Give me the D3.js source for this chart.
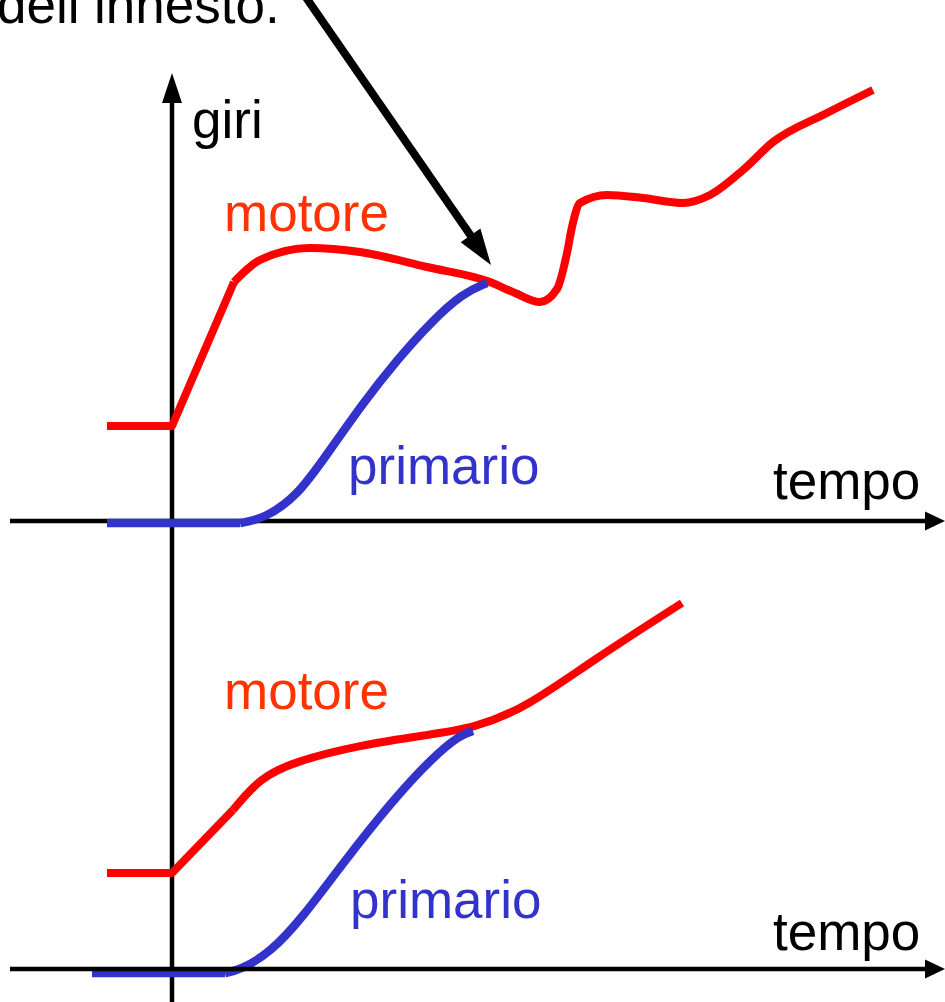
<!DOCTYPE html>
<html><head><meta charset="utf-8">
<script src="https://cdn.jsdelivr.net/npm/d3@7"></script>
<style>
body{margin:0;background:#fff}
svg{display:block}
text{font-family:"Liberation Sans",Arial,Helvetica,sans-serif;font-size:53px}
</style>
</head><body>
<svg id="chart" width="945" height="1002"></svg>
<script>
// ---- data (time units, rpm units) ----
const axisLabels = {y: "giri", x: "tempo"};
const seriesNames = ["motore", "primario"];
const annotationText = ["dell’", "innesto."];

// upper panel: engine ("motore") ramps up, then smooth; clutch engages at t≈318
const topMotoreRamp   = [[-65,95],[0,95],[62,239]];
const topMotoreSmooth = [[62,239],[88,261],[138,273],[188,269],[255,254],[318,239],
                         [343,228],[368,219],[385,232],[395,268],[400,294],[408,318],
                         [435,326],[471,323],[511,318],[538,326],[571,351],[601,379],
                         [655,408],[701,431]];
const topPrimarioFlat = [[-65,-2],[68,-2]];
const topPrimarioRise = [[68,-2],[91,2],[125,24],[158,71],[191,118],[225,161],
                         [258,198],[291,228],[315,238]];

// lower panel
const botMotoreRamp   = [[-65,96],[0,96],[61,159]];
const botMotoreSmooth = [[61,159],[88,191],[121,207],[188,224],[255,234],[303,241],
                         [355,262],[421,309],[510,366]];
const botPrimarioFlat = [[-80,-4],[53,-4]];
const botPrimarioRise = [[53,-4],[68,-1],[98,16],[131,52],[171,106],[221,169],
                         [261,212],[288,234],[301,238]];

// ---- scales ----
const svg = d3.select("#chart");
const x = d3.scaleLinear().domain([0, 773]).range([172, 945]);
const yTop = d3.scaleLinear().domain([0, 450]).range([521, 71]);
const yBot = d3.scaleLinear().domain([0, 450]).range([969, 519]);

const RED = "#ff0000", BLUE = "#3333cc", LABEL_RED = "#ff3300";

function lineGen(y, curve) {
  return d3.line().x(d => x(d[0])).y(d => y(d[1])).curve(curve);
}
function drawSeries(data, y, curve, color, width) {
  svg.append("path").attr("d", lineGen(y, curve)(data))
    .attr("fill", "none").attr("stroke", color).attr("stroke-width", width)
    .attr("stroke-linejoin", "round").attr("stroke-linecap", "butt");
}
function arrowHead(tx, ty, angle, len, half) {
  const bx = tx - len * Math.cos(angle), by = ty - len * Math.sin(angle);
  const px = -Math.sin(angle) * half, py = Math.cos(angle) * half;
  svg.append("path")
    .attr("d", `M${tx},${ty}L${bx + px},${by + py}L${bx - px},${by - py}Z`)
    .attr("fill", "#000");
}
function hAxis(y) {
  svg.append("line").attr("x1", x(-162)).attr("x2", x(756))
    .attr("y1", y(0)).attr("y2", y(0)).attr("stroke", "#000").attr("stroke-width", 4.5);
  arrowHead(x(773), y(0), 0, 20, 9.5);
}

// vertical axis
svg.append("line").attr("x1", x(0)).attr("x2", x(0))
  .attr("y1", yBot(-33)).attr("y2", yTop(420))
  .attr("stroke", "#000").attr("stroke-width", 4.5);
arrowHead(x(0), yTop(448), -Math.PI / 2, 30, 10);

// upper panel
hAxis(yTop);
drawSeries(topMotoreRamp, yTop, d3.curveLinear, RED, 8);
drawSeries(topMotoreSmooth, yTop, d3.curveMonotoneX, RED, 8);
drawSeries(topPrimarioFlat, yTop, d3.curveLinear, BLUE, 8.5);
drawSeries(topPrimarioRise, yTop, d3.curveBasis, BLUE, 8.5);

// lower panel
drawSeries(botMotoreRamp, yBot, d3.curveLinear, RED, 8);
drawSeries(botMotoreSmooth, yBot, d3.curveBasis, RED, 8);
drawSeries(botPrimarioFlat, yBot, d3.curveLinear, BLUE, 8.5);
drawSeries(botPrimarioRise, yBot, d3.curveBasis, BLUE, 8.5);
hAxis(yBot);

// labels
svg.append("text").attr("x", 192).attr("y", 138).attr("fill", "#000").text(axisLabels.y);
svg.append("text").attr("x", 773).attr("y", 499).attr("fill", "#000").text(axisLabels.x);
svg.append("text").attr("x", 773).attr("y", 950).attr("fill", "#000").text(axisLabels.x);
svg.append("text").attr("x", 224).attr("y", 231).attr("fill", LABEL_RED).text(seriesNames[0]);
svg.append("text").attr("x", 348).attr("y", 484).attr("fill", BLUE).text(seriesNames[1]);
svg.append("text").attr("x", 224).attr("y", 709).attr("fill", LABEL_RED).text(seriesNames[0]);
svg.append("text").attr("x", 350).attr("y", 918).attr("fill", BLUE).text(seriesNames[1]);

// annotation
const ann = svg.append("text").attr("x", -3).attr("y", 23).attr("fill", "#000");
ann.append("tspan").text(annotationText[0]);
ann.append("tspan").attr("x", 94).text(annotationText[1]);

const tipX = x(319), tipY = yTop(256);
const startX = 305, startY = -4;
const ang = Math.atan2(tipY - startY, tipX - startX);
svg.append("line").attr("x1", startX).attr("y1", startY)
  .attr("x2", tipX - 30 * Math.cos(ang)).attr("y2", tipY - 30 * Math.sin(ang))
  .attr("stroke", "#000").attr("stroke-width", 8);
arrowHead(tipX, tipY, ang, 36, 12);
</script>
</body></html>
